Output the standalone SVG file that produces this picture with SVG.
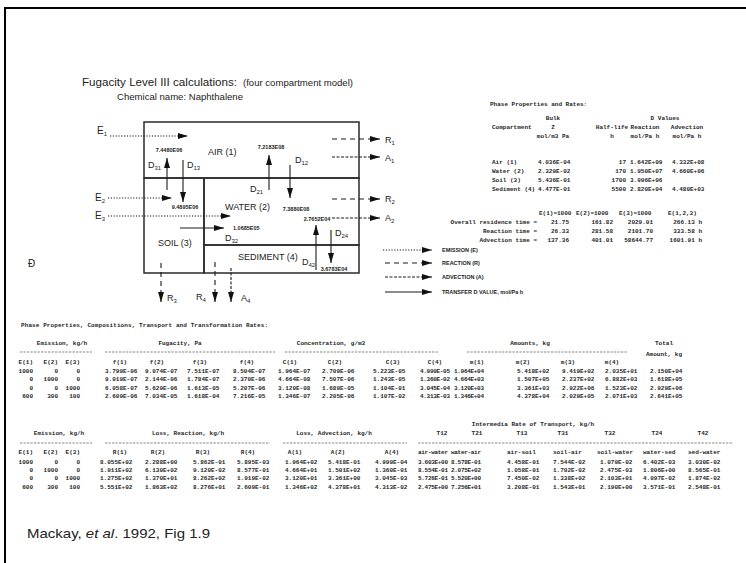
<svg xmlns="http://www.w3.org/2000/svg" width="746" height="563" viewBox="0 0 746 563">
<style>
.s{font-family:"Liberation Sans",Arial,sans-serif;fill:#222}
.l9{font-size:9px}
.n{font-size:5.5px;font-weight:bold}
.m{font-family:"Liberation Mono","DejaVu Sans Mono",monospace;font-size:6px;font-weight:bold;fill:#262626}
.c{text-anchor:middle}
.e{text-anchor:end}
.box{fill:none;stroke:#2a2a2a;stroke-width:1.5}
.ln{fill:none;stroke:#1a1a1a;stroke-width:1.1}
.em{stroke-dasharray:1.2 1.6}
.re{stroke-dasharray:5 4}
.ad{stroke-dasharray:3 1.5}
.dash{stroke:#666;stroke-width:0.8;stroke-dasharray:2.3 1.2}
.sub{font-size:6px}
</style>
<defs>
<marker id="ah" viewBox="0 0 10 6" markerWidth="10" markerHeight="6.5" refX="10" refY="3" orient="auto" markerUnits="userSpaceOnUse"><path d="M0,0L10,3L0,6z" fill="#111"/></marker>
</defs>
<rect width="746" height="563" fill="#fff"/>
<path d="M5,563V8H746" fill="none" stroke="#000" stroke-width="2"/>

<g id="title">
<text class="s" x="82" y="86" font-size="11" textLength="155" lengthAdjust="spacingAndGlyphs">Fugacity Level III calculations:</text>
<text class="s" x="243" y="86" font-size="8.5" textLength="110" lengthAdjust="spacingAndGlyphs">(four compartment model)</text>
<text class="s" x="117" y="100" font-size="9" textLength="126" lengthAdjust="spacingAndGlyphs">Chemical name: Naphthalene</text>
</g>

<g id="air">
<rect class="box" x="144" y="122" width="215" height="56"/>
<text class="s l9" x="208" y="155">AIR (1)</text>
</g>
<g id="soil">
<rect class="box" x="144" y="178" width="60" height="95"/>
<text class="s l9" x="158" y="246">SOIL (3)</text>
</g>
<g id="water">
<rect class="box" x="204" y="178" width="155" height="67"/>
<text class="s l9" x="225" y="210">WATER (2)</text>
</g>
<g id="sediment">
<rect class="box" x="204" y="245" width="155" height="28"/>
<text class="s l9" x="238" y="260">SEDIMENT (4)</text>
</g>

<g id="connectors">
<path class="ln em" d="M110,136H188" marker-end="url(#ah)"/>
<path class="ln em" d="M108,198H172" marker-end="url(#ah)"/>
<path class="ln em" d="M108,216H231" marker-end="url(#ah)"/>
<path class="ln" d="M167,190V158" marker-end="url(#ah)"/>
<path class="ln" d="M183,160V202" marker-end="url(#ah)"/>
<path class="ln" d="M269,190V155" marker-end="url(#ah)"/>
<path class="ln" d="M290,165V198" marker-end="url(#ah)"/>
<path class="ln" d="M180,228H224" marker-end="url(#ah)"/>
<path class="ln" d="M316,270V225" marker-end="url(#ah)"/>
<path class="ln" d="M331,230V263" marker-end="url(#ah)"/>
<path class="ln re" d="M332,139H380" marker-end="url(#ah)"/>
<path class="ln re" d="M332,199H380" marker-end="url(#ah)"/>
<path class="ln re" d="M161,263V302" marker-end="url(#ah)"/>
<path class="ln re" d="M215,262V302" marker-end="url(#ah)"/>
<path class="ln ad" d="M332,157H380" marker-end="url(#ah)"/>
<path class="ln ad" d="M332,218H380" marker-end="url(#ah)"/>
<path class="ln ad" d="M231,268V302" marker-end="url(#ah)"/>
<path class="ln em" d="M383,250H432" marker-end="url(#ah)"/>
<path class="ln re" d="M385,263H432" marker-end="url(#ah)"/>
<path class="ln ad" d="M385,277H432" marker-end="url(#ah)"/>
<path class="ln" d="M385,292H432" marker-end="url(#ah)"/>
</g>

<g id="connector-labels">
<text class="s" x="97" y="134" font-size="10">E<tspan class="sub" dy="2">1</tspan></text>
<text class="s" x="95" y="201" font-size="10">E<tspan class="sub" dy="2">2</tspan></text>
<text class="s" x="95" y="219" font-size="10">E<tspan class="sub" dy="2">3</tspan></text>
<text class="s" x="148" y="168" font-size="9">D<tspan class="sub" dy="1.5">31</tspan></text>
<text class="s" x="187" y="168" font-size="9">D<tspan class="sub" dy="1.5">13</tspan></text>
<text class="s" x="250" y="192" font-size="9">D<tspan class="sub" dy="1.5">21</tspan></text>
<text class="s" x="295" y="163" font-size="9">D<tspan class="sub" dy="1.5">12</tspan></text>
<text class="s" x="225" y="241" font-size="9">D<tspan class="sub" dy="1.5">32</tspan></text>
<text class="s" x="302" y="265" font-size="9">D<tspan class="sub" dy="1.5">42</tspan></text>
<text class="s" x="335" y="236" font-size="9">D<tspan class="sub" dy="1.5">24</tspan></text>
<text class="s n c" x="169" y="152">7.4480E06</text>
<text class="s n c" x="185" y="209">9.4895E06</text>
<text class="s n c" x="271" y="149">7.2183E08</text>
<text class="s n c" x="296" y="211">7.3880E08</text>
<text class="s n" x="233" y="230">1.0685E05</text>
<text class="s n c" x="317" y="221">2.7652E04</text>
<text class="s n c" x="334" y="271">3.6783E04</text>
<text class="s" x="385" y="143" font-size="9">R<tspan class="sub" dy="1.5">1</tspan></text>
<text class="s" x="385" y="161" font-size="9">A<tspan class="sub" dy="1.5">1</tspan></text>
<text class="s" x="385" y="202" font-size="9">R<tspan class="sub" dy="1.5">2</tspan></text>
<text class="s" x="385" y="221" font-size="9">A<tspan class="sub" dy="1.5">2</tspan></text>
<text class="s" x="167" y="301" font-size="9">R<tspan class="sub" dy="1.5">3</tspan></text>
<text class="s" x="196" y="300" font-size="9">R<tspan class="sub" dy="1.5">4</tspan></text>
<text class="s" x="241" y="301" font-size="9">A<tspan class="sub" dy="1.5">4</tspan></text>
<text class="s" x="28" y="267" font-size="10">Ð</text>
<text class="s n" x="442" y="252">EMISSION (E)</text>
<text class="s n" x="442" y="265">REACTION (R)</text>
<text class="s n" x="442" y="279">ADVECTION (A)</text>
<text class="s n" x="442" y="294">TRANSFER D VALUE, mol/Pa h</text>
</g>

<g id="phase-table" class="m">
<text x="490" y="106">Phase Properties and Rates:</text>
<text class="c" x="553" y="120">Bulk</text>
<text class="c" x="665" y="120">D Values</text>
<text x="492" y="129">Compartment</text>
<text class="c" x="553" y="129">Z</text>
<text class="c" x="612" y="129">Half-life</text>
<text class="c" x="645" y="129">Reaction</text>
<text class="c" x="687" y="129">Advection</text>
<text class="c" x="553" y="138">mol/m3 Pa</text>
<text class="c" x="612" y="138">h</text>
<text class="c" x="645" y="138">mol/Pa h</text>
<text class="c" x="687" y="138">mol/Pa h</text>
<text x="492" y="164">Air (1)</text><text x="538" y="164">4.036E-04</text><text class="e" x="626" y="164">17</text><text x="630" y="164">1.642E+09</text><text x="672" y="164">4.332E+08</text>
<text x="492" y="173">Water (2)</text><text x="538" y="173">2.329E-02</text><text class="e" x="626" y="173">170</text><text x="630" y="173">1.950E+07</text><text x="672" y="173">4.660E+06</text>
<text x="492" y="182">Soil (3)</text><text x="538" y="182">5.436E-01</text><text class="e" x="626" y="182">1700</text><text x="630" y="182">3.996E+06</text>
<text x="492" y="191">Sediment (4)</text><text x="538" y="191">4.477E-01</text><text class="e" x="626" y="191">5500</text><text x="630" y="191">2.820E+04</text><text x="672" y="191">4.480E+03</text>
<text x="539" y="215">E(1)=1000</text><text x="576" y="215">E(2)=1000</text><text x="619" y="215">E(3)=1000</text><text x="668" y="215">E(1,2,3)</text>
<text class="e" x="537" y="224">Overall residence time =</text><text class="e" x="569" y="224">21.75</text><text class="e" x="613" y="224">161.82</text><text class="e" x="653" y="224">2029.01</text><text class="e" x="702" y="224">266.13 h</text>
<text class="e" x="537" y="233">Reaction time =</text><text class="e" x="569" y="233">26.33</text><text class="e" x="613" y="233">281.58</text><text class="e" x="653" y="233">2101.70</text><text class="e" x="702" y="233">333.58 h</text>
<text class="e" x="537" y="242">Advection time =</text><text class="e" x="569" y="242">137.36</text><text class="e" x="613" y="242">401.01</text><text class="e" x="653" y="242">58644.77</text><text class="e" x="702" y="242">1601.91 h</text>
</g>

<g id="composition-table" class="m">
<text x="21" y="327" textLength="247" lengthAdjust="spacing">Phase Properties, Compositions, Transport and Transformation Rates:</text>
<text class="c" x="62" y="345">Emission, kg/h</text>
<text class="c" x="180" y="345">Fugacity, Pa</text>
<text class="c" x="331" y="345">Concentration, g/m3</text>
<text class="c" x="530" y="345">Amounts, kg</text>
<text class="c" x="664" y="345">Total</text>
<text class="c" x="664" y="356">Amount, kg</text>
<path class="dash" d="M20,352H92M105,352H275M285,352H438M467,352H627"/>
<text class="e" x="33" y="364">E(1)</text><text class="e" x="58" y="364">E(2)</text><text class="e" x="80" y="364">E(3)</text>
<text class="c" x="120" y="364">f(1)</text><text class="c" x="157" y="364">f(2)</text><text class="c" x="200" y="364">f(3)</text><text class="c" x="247" y="364">f(4)</text>
<text class="c" x="290" y="364">C(1)</text><text class="c" x="335" y="364">C(2)</text><text class="c" x="393" y="364">C(3)</text><text class="c" x="435" y="364">C(4)</text>
<text class="c" x="477" y="364">m(1)</text><text class="c" x="523" y="364">m(2)</text><text class="c" x="568" y="364">m(3)</text><text class="c" x="612" y="364">m(4)</text>

<text class="e" x="33" y="373">1000</text><text class="e" x="58" y="373">0</text><text class="e" x="80" y="373">0</text>
<text x="105" y="373">3.799E-06</text><text x="145" y="373">9.074E-07</text><text x="187" y="373">7.511E-07</text><text x="233" y="373">8.504E-07</text>
<text x="278" y="373">1.964E-07</text><text x="322" y="373">2.709E-06</text><text x="373" y="373">5.223E-05</text><text x="420" y="373" textLength="30">4.999E-05</text>
<text x="454" y="373" textLength="30">1.964E+04</text><text x="517" y="373">5.418E+02</text><text x="562" y="373">9.419E+02</text><text x="605" y="373">2.035E+01</text><text x="650" y="373">2.150E+04</text>

<text class="e" x="33" y="381">0</text><text class="e" x="58" y="381">1000</text><text class="e" x="80" y="381">0</text>
<text x="105" y="381">9.019E-07</text><text x="145" y="381">2.144E-06</text><text x="187" y="381">1.784E-07</text><text x="233" y="381">2.370E-06</text>
<text x="278" y="381">4.664E-08</text><text x="322" y="381">7.507E-06</text><text x="373" y="381">1.243E-05</text><text x="420" y="381" textLength="30">1.360E-02</text>
<text x="454" y="381" textLength="30">4.664E+03</text><text x="517" y="381">1.507E+05</text><text x="562" y="381">2.237E+02</text><text x="605" y="381">6.882E+03</text><text x="650" y="381">1.618E+05</text>

<text class="e" x="33" y="389.5">0</text><text class="e" x="58" y="389.5">0</text><text class="e" x="80" y="389.5">1000</text>
<text x="105" y="389.5">6.058E-07</text><text x="145" y="389.5">5.629E-06</text><text x="187" y="389.5">1.613E-05</text><text x="233" y="389.5">5.207E-06</text>
<text x="278" y="389.5">3.120E-08</text><text x="322" y="389.5">1.689E-05</text><text x="373" y="389.5">1.104E-01</text><text x="420" y="389.5" textLength="30">3.045E-04</text>
<text x="454" y="389.5" textLength="30">3.120E+03</text><text x="517" y="389.5">3.361E+03</text><text x="562" y="389.5">2.922E+06</text><text x="605" y="389.5">1.523E+02</text><text x="650" y="389.5">2.929E+06</text>

<text class="e" x="33" y="398">600</text><text class="e" x="58" y="398">300</text><text class="e" x="80" y="398">100</text>
<text x="105" y="398">2.609E-06</text><text x="145" y="398">7.034E-05</text><text x="187" y="398">1.618E-04</text><text x="233" y="398">7.216E-05</text>
<text x="278" y="398">1.346E-07</text><text x="322" y="398">2.205E-06</text><text x="373" y="398">1.107E-02</text><text x="420" y="398" textLength="30">4.313E-03</text>
<text x="454" y="398" textLength="30">1.346E+04</text><text x="517" y="398">4.378E+04</text><text x="562" y="398">2.029E+05</text><text x="605" y="398">2.071E+03</text><text x="650" y="398">2.641E+05</text>
</g>

<g id="rates-table" class="m">
<text class="c" x="533" y="426">Intermedia Rate of Transport, kg/h</text>
<text class="c" x="59" y="435">Emission, kg/h</text>
<text class="c" x="188" y="435">Loss, Reaction, kg/h</text>
<text class="c" x="334" y="435">Loss, Advection, kg/h</text>
<text class="c" x="442" y="435">T12</text><text class="c" x="477" y="435">T21</text><text class="c" x="522" y="435">T13</text><text class="c" x="563" y="435">T31</text><text class="c" x="610" y="435">T32</text><text class="c" x="657" y="435">T24</text><text class="c" x="703" y="435">T42</text>
<path class="dash" d="M20,443H92M105,443H270M283,443H407M418,443H733"/>
<text class="e" x="33" y="454">E(1)</text><text class="e" x="58" y="454">E(2)</text><text class="e" x="80" y="454">E(3)</text>
<text class="c" x="120" y="454">R(1)</text><text class="c" x="158" y="454">R(2)</text><text class="c" x="203" y="454">R(3)</text><text class="c" x="248" y="454">R(4)</text>
<text class="c" x="295" y="454">A(1)</text><text class="c" x="338" y="454">A(2)</text><text class="c" x="392" y="454">A(4)</text>
<text x="418" y="454" textLength="30">air-water</text><text x="451" y="454" textLength="30">water-air</text><text x="507" y="454">air-soil</text><text x="553" y="454">soil-air</text><text x="597" y="454">soil-water</text><text x="643" y="454">water-sed</text><text x="688" y="454">sed-water</text>

<text class="e" x="33" y="464">1000</text><text class="e" x="58" y="464">0</text><text class="e" x="80" y="464">0</text>
<text x="100" y="464">8.055E+02</text><text x="145" y="464">2.288E+00</text><text x="193" y="464">5.862E-01</text><text x="237" y="464">5.895E-03</text>
<text x="285" y="464">1.964E+02</text><text x="328" y="464">5.418E-01</text><text x="375" y="464">4.999E-04</text>
<text x="418" y="464" textLength="30">3.603E+00</text><text x="451" y="464" textLength="30">8.578E-01</text><text x="507" y="464">4.458E-01</text><text x="553" y="464">7.544E-02</text><text x="600" y="464">1.079E-02</text><text x="643" y="464">6.402E-03</text><text x="688" y="464">3.030E-02</text>

<text class="e" x="33" y="472">0</text><text class="e" x="58" y="472">1000</text><text class="e" x="80" y="472">0</text>
<text x="100" y="472">1.911E+02</text><text x="145" y="472">6.130E+02</text><text x="193" y="472">9.120E-02</text><text x="237" y="472">8.577E-01</text>
<text x="285" y="472">4.664E+01</text><text x="328" y="472">1.501E+02</text><text x="375" y="472">1.360E-01</text>
<text x="418" y="472" textLength="30">8.554E-01</text><text x="451" y="472" textLength="30">2.075E+02</text><text x="507" y="472">1.058E-01</text><text x="553" y="472">1.792E-02</text><text x="600" y="472">2.475E-03</text><text x="643" y="472">1.806E+00</text><text x="688" y="472">8.565E-01</text>

<text class="e" x="33" y="480">0</text><text class="e" x="58" y="480">0</text><text class="e" x="80" y="480">1000</text>
<text x="100" y="480">1.275E+02</text><text x="145" y="480">1.370E+01</text><text x="193" y="480">8.262E+02</text><text x="237" y="480">1.919E-02</text>
<text x="285" y="480">3.120E+01</text><text x="328" y="480">3.361E+00</text><text x="375" y="480">3.045E-03</text>
<text x="418" y="480" textLength="30">5.726E-01</text><text x="451" y="480" textLength="30">5.520E+00</text><text x="507" y="480">7.450E-02</text><text x="553" y="480">1.338E+02</text><text x="600" y="480">2.103E+01</text><text x="643" y="480">4.097E-02</text><text x="688" y="480">1.874E-02</text>

<text class="e" x="33" y="489">600</text><text class="e" x="58" y="489">300</text><text class="e" x="80" y="489">100</text>
<text x="100" y="489">5.551E+02</text><text x="145" y="489">1.863E+02</text><text x="193" y="489">8.276E+01</text><text x="237" y="489">2.609E-01</text>
<text x="285" y="489">1.346E+02</text><text x="328" y="489">4.378E+01</text><text x="375" y="489">4.313E-02</text>
<text x="418" y="489" textLength="30">2.475E+00</text><text x="451" y="489" textLength="30">7.256E+01</text><text x="507" y="489">3.208E-01</text><text x="553" y="489">1.543E+01</text><text x="600" y="489">2.190E+00</text><text x="643" y="489">3.571E-01</text><text x="688" y="489">2.548E-01</text>
</g>

<g id="citation">
<text class="s" x="27" y="538" font-size="13" textLength="183" lengthAdjust="spacingAndGlyphs" fill="#111">Mackay, <tspan font-style="italic">et al</tspan>. 1992, Fig 1.9</text>
</g>
</svg>
